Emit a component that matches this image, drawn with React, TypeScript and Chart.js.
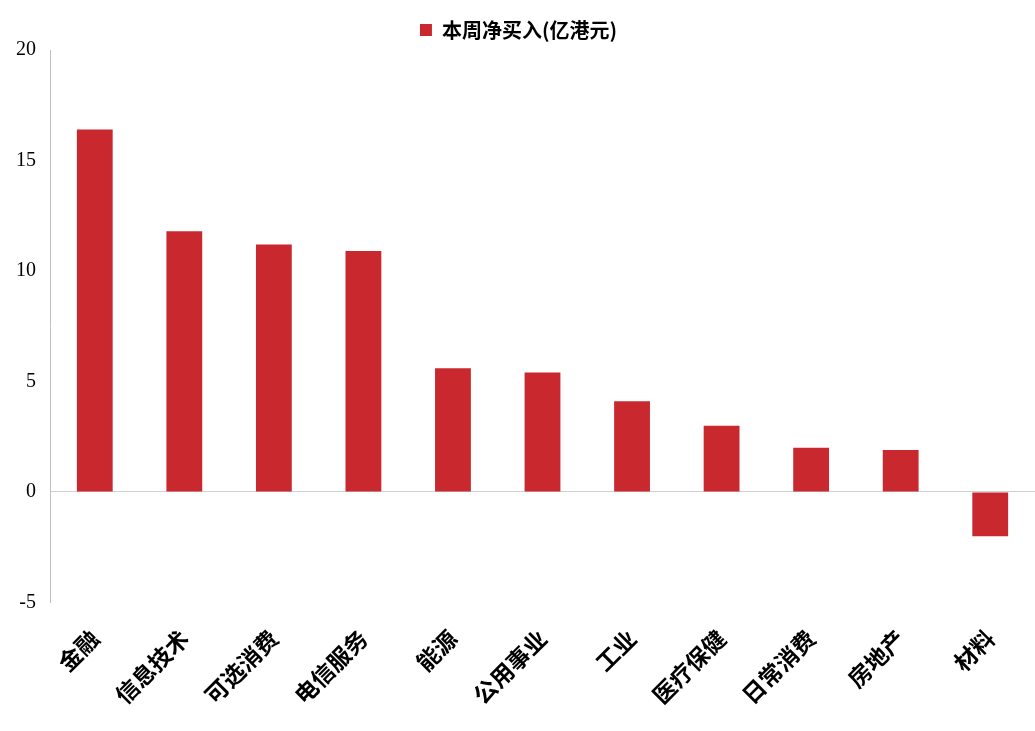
import React, { useEffect, useRef } from 'react';
import Chart from 'chart.js/auto';

const categories = ['金融', '信息技术', '可选消费', '电信服务', '能源', '公用事业', '工业', '医疗保健', '日常消费', '房地产', '材料'];
const netBuy = [16.4, 11.8, 11.2, 10.9, 5.6, 5.4, 4.1, 3.0, 2.0, 1.9, -2.0];
const seriesLabel = '本周净买入(亿港元)';

const App: React.FC = () => {
  const chartRef = useRef<HTMLCanvasElement>(null);

  useEffect(() => {
    document.body.style.margin = '0';
    if (!chartRef.current) return;
    const chart = new Chart(chartRef.current, {
      type: 'bar',
      data: {
        labels: categories,
        datasets: [{
          label: seriesLabel,
          data: netBuy,
          backgroundColor: '#C8282E',
          barPercentage: 0.4,
          categoryPercentage: 1,
        }],
      },
      options: {
        responsive: false,
        animation: false,
        layout: { padding: { top: 8, right: 0, bottom: 8, left: 2 } },
        plugins: {
          legend: {
            position: 'top',
            labels: {
              boxWidth: 12,
              boxHeight: 12,
              color: '#000',
              padding: 12,
              font: { family: 'Noto Sans CJK SC', size: 20, weight: 'bold' },
            },
          },
          tooltip: { enabled: false },
        },
        scales: {
          x: {
            border: { display: false },
            grid: { display: false },
            ticks: {
              color: '#000',
              maxRotation: 45,
              minRotation: 45,
              padding: 14,
              font: { family: 'Noto Sans CJK SC', size: 23, weight: 'bold' },
            },
          },
          y: {
            min: -5,
            max: 20,
            border: { display: true, color: '#bfbfbf' },
            grid: {
              drawTicks: false,
              color: (ctx) => (ctx.tick && ctx.tick.value === 0 ? '#d0d0d0' : 'rgba(0,0,0,0)'),
            },
            ticks: {
              stepSize: 5,
              color: '#000',
              padding: 14,
              font: { family: 'Liberation Serif', size: 20 },
            },
          },
        },
      },
    });
    return () => chart.destroy();
  }, []);

  return <canvas ref={chartRef} width={1035} height={731} />;
};

export default App;
